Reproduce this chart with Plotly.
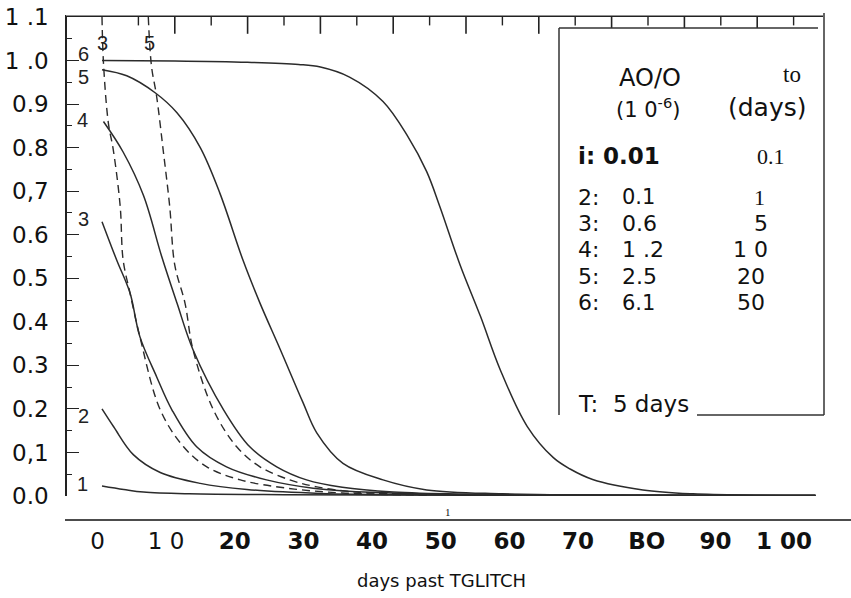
import plotly.graph_objects as go

# ---------------- data ----------------
days_1 = [0, 3, 5.7, 12, 25, 50, 98]
frac_1 = [0.023, 0.015, 0.009, 0.005, 0.003, 0.002, 0.001]

days_2 = [0, 1.6, 4.3, 8, 13.5, 19.9, 30, 45, 70, 98]
frac_2 = [0.2, 0.159, 0.095, 0.054, 0.029, 0.015, 0.006, 0.003, 0.002, 0.001]

days_3 = [0, 2.0, 3.85, 5.2, 7.5, 9.6, 13, 17.1, 22.6, 29, 36, 48, 70, 98]
frac_3 = [0.63, 0.5425, 0.466, 0.366, 0.274, 0.198, 0.113, 0.067, 0.037, 0.018, 0.009, 0.004, 0.002, 0.001]

days_4 = [0.2, 2.9, 5.7, 8.2, 10.3, 12.5, 16.7, 20.3, 24, 28.1, 33, 40, 50, 70, 98]
frac_4 = [0.86, 0.79, 0.69, 0.55, 0.443, 0.336, 0.198, 0.113, 0.067, 0.037, 0.02, 0.009, 0.004, 0.002, 0.001]

days_5 = [0, 3.4, 7.3, 10.3, 13.5, 16.2, 19.4, 21.7, 24.5, 27.6, 29.5, 33.1, 38.6, 44.6, 55, 70, 98]
frac_5 = [0.979, 0.965, 0.926, 0.88, 0.80, 0.695, 0.54, 0.443, 0.336, 0.215, 0.145, 0.075, 0.037, 0.014, 0.005, 0.002, 0.001]

days_6 = [0, 10, 20, 27, 30, 34, 38.6, 42, 44.6, 46.4, 49.2, 52, 54.7, 58.4, 62, 64.3, 67.4, 74.3, 81.2, 90, 98]
frac_6 = [1.0, 0.999, 0.996, 0.991, 0.985, 0.962, 0.906, 0.826, 0.745, 0.665, 0.53, 0.412, 0.29, 0.16, 0.088, 0.062, 0.038, 0.014, 0.005, 0.002, 0.001]

days_3d = [0, 0.2, 0.87, 1.55, 2.5, 2.9, 3.85, 5.2, 8, 11.2, 14.4, 19, 25.4, 33, 45]
frac_3d = [1.1, 0.995, 0.857, 0.795, 0.665, 0.5425, 0.466, 0.366, 0.198, 0.113, 0.067, 0.037, 0.018, 0.007, 0.002]

days_5d = [6.36, 6.8, 7.5, 8.4, 9.3, 10.0, 11.4, 12.5, 15.3, 18.5, 21.7, 25.8, 29.5, 35, 45]
frac_5d = [1.1, 0.987, 0.918, 0.795, 0.665, 0.53, 0.443, 0.336, 0.198, 0.113, 0.067, 0.037, 0.021, 0.009, 0.003]

y_tick_vals = [0.0, 0.1, 0.2, 0.3, 0.4, 0.5, 0.6, 0.7, 0.8, 0.9, 1.0, 1.1]
y_tick_text = ["0.0", "0,1", "0.2", "0.3", "0.4", "0.5", "0.6", "0,7", "0.8", "0.9", "1 .0", "1 .1"]

x_label_vals = [0, 10, 20, 30, 40, 50, 60, 70, 80, 90, 100]
x_label_text = ["0", "1 0", "20", "30", "40", "50", "60", "70", "BO", "90", "1 00"]

top_tick_major = [10, 20, 30, 40, 50, 60, 70, 80, 90]
top_tick_minor = [5, 15, 25, 35, 45, 55, 65, 75, 85, 95]

legend_rows = ["i: 0.01", "2:", "3:", "4:", "5:", "6:"]
legend_ao = ["", "0.1", "0.6", "1 .2", "2.5", "6.1"]
legend_t0 = ["0.1", "1", "5", "1 0", "20", "50"]

# ---------------- geometry helpers ----------------
W, H = 851, 598
L, R, T, B = 67, 823, 17, 520   # plot box in pixels (B = bottom label axis)
Y0 = 496                         # pixel row of value 0
Y_TOP = 1.1


def pxx(xp):
    return (xp - L) / (R - L)


def pxy(yp):
    return (B - yp) / (B - T)


LINE = "#2b2b2b"
LABEL_FONT = dict(family="Liberation Sans Narrow, Liberation Sans", size=20, color="#222")
fig = go.Figure()

solid = [(days_1, frac_1, "1", -20, 2), (days_2, frac_2, "2", -19, -7),
         (days_3, frac_3, "3", -19, 3), (days_4, frac_4, "4", -21, 2),
         (days_5, frac_5, "5", -19, -7), (days_6, frac_6, "6", -19, 7)]
for xs, ys, lab, dx, dy in solid:
    fig.add_trace(go.Scatter(x=xs, y=ys, mode="lines",
                             line=dict(color=LINE, width=1.5, shape="spline", smoothing=1.0),
                             showlegend=False, hoverinfo="skip"))
    fig.add_annotation(x=xs[0], y=ys[0], xref="x", yref="y", text=lab, showarrow=False,
                       xshift=dx, yshift=dy, font=LABEL_FONT)

dashed = [(days_3d, frac_3d, "3", 0, -26), (days_5d, frac_5d, "5", 1, -26)]
for xs, ys, lab, dx, dy in dashed:
    fig.add_trace(go.Scatter(x=xs, y=ys, mode="lines",
                             line=dict(color=LINE, width=1.4, dash="8px,5px", shape="spline", smoothing=1.0),
                             showlegend=False, hoverinfo="skip"))
    fig.add_annotation(x=xs[0], y=ys[0], xref="x", yref="y", text=lab, showarrow=False,
                       xshift=dx, yshift=dy, font=LABEL_FONT)

# top-border tick marks: vertical tick symbols centred on the top edge; the half above the
# edge is masked by a white band so only the downward half shows
for vals, tick_len, lw in [(top_tick_major, 12, 1.6), (top_tick_minor, 6, 1.4)]:
    fig.add_trace(go.Scatter(x=vals, y=[Y_TOP] * len(vals), mode="markers", cliponaxis=False,
                             marker=dict(symbol="line-ns", size=2 * tick_len, line=dict(color="#222", width=lw)),
                             showlegend=False, hoverinfo="skip"))

# carrier for the bottom label axis (draws nothing)
fig.add_trace(go.Scatter(x=x_label_vals, y=[None] * len(x_label_vals), xaxis="x2", yaxis="y",
                         mode="lines", showlegend=False, hoverinfo="skip"))

# ---------------- axes ----------------
px_per_day = 7.28
x0_px = 102
fig.update_layout(
    width=W, height=H,
    margin=dict(l=L, r=W - R, t=T, b=H - B, autoexpand=False),
    paper_bgcolor="white", plot_bgcolor="white",
    showlegend=False,
    xaxis=dict(range=[(L - x0_px) / px_per_day, (R - x0_px) / px_per_day], side="top", anchor="y",
               showline=True, linecolor="#222", linewidth=1.5, showgrid=False, zeroline=False,
               ticks="", showticklabels=False, automargin=False),
    xaxis2=dict(overlaying="x", anchor="free", position=0, side="bottom", range=[-4.44, 105.67],
                showline=False, showgrid=False, zeroline=False, ticks="", automargin=False,
                tickvals=x_label_vals,
                ticktext=[t if i < 2 else "<b>%s</b>" % t for i, t in enumerate(x_label_text)],
                tickfont=dict(family="DejaVu Sans", size=23, color="#111"), ticklabelstandoff=5),
    yaxis=dict(range=[0, Y_TOP], domain=[(B - Y0) / (B - T), 1], showline=True, linecolor="#222", linewidth=1.5,
               showgrid=False, zeroline=False, ticks="inside", tickvals=y_tick_vals, ticktext=y_tick_text,
               ticklen=12, tickwidth=1.2, tickcolor="#222", ticklabelstandoff=12, automargin=False,
               tickfont=dict(family="DejaVu Sans", size=23, color="#111"),
               minor=dict(dtick=0.05, ticks="inside", ticklen=5, tickwidth=1.1, tickcolor="#222")),
)

# white band above the top edge (hides the upper halves of the tick symbols)
fig.add_shape(type="rect", xref="paper", yref="paper", x0=pxx(66), x1=pxx(851), y0=pxy(15.5), y1=pxy(0),
              fillcolor="white", line=dict(width=0), layer="above")

# bottom label-axis line
fig.add_shape(type="line", xref="paper", yref="paper", x0=pxx(65), x1=pxx(851), y0=0, y1=0,
              line=dict(color="#111", width=1.5))

# legend box
box = dict(color="#333", width=1.5)
fig.add_shape(type="rect", xref="paper", yref="paper", x0=pxx(559), x1=pxx(824), y0=pxy(415), y1=pxy(28),
              fillcolor="white", line=dict(width=0), layer="above")
fig.add_shape(type="line", xref="paper", yref="paper", x0=pxx(559), x1=pxx(559), y0=pxy(415), y1=pxy(28), line=box)
fig.add_shape(type="line", xref="paper", yref="paper", x0=pxx(559), x1=pxx(818), y0=pxy(28), y1=pxy(28), line=box)
fig.add_shape(type="line", xref="paper", yref="paper", x0=pxx(824), x1=pxx(824), y0=pxy(415), y1=pxy(13), line=box)
fig.add_shape(type="line", xref="paper", yref="paper", x0=pxx(697), x1=pxx(824), y0=pxy(415), y1=pxy(415), line=box)


def note(text, xp, yp, family="DejaVu Sans", size=22, anchor="left"):
    fig.add_annotation(x=pxx(xp), y=pxy(yp), xref="paper", yref="paper", text=text, showarrow=False,
                       xanchor=anchor, yanchor="middle", borderpad=0,
                       font=dict(family=family, size=size, color="#111"))


note("AO/O", 650, 78, size=24, anchor="center")
note("(1 0<sup>-6</sup>)", 648, 108, size=21, anchor="center")
note("to", 792, 74, family="Liberation Serif", size=23, anchor="center")
note("(days)", 767, 108, size=25, anchor="center")

row_y = [156, 197, 223, 249, 276, 303]
col2_x = [771, 759, 761, 750, 751, 751]
for i, (lab, ao, t0) in enumerate(zip(legend_rows, legend_ao, legend_t0)):
    if i == 0:
        note("<b>%s</b>" % lab, 577, row_y[i], size=23)
        note(t0, col2_x[i], row_y[i], family="Liberation Serif", size=22, anchor="center")
    else:
        note(lab, 577, row_y[i], family="DejaVu Sans", size=22)
        note(ao, 621, row_y[i], family="DejaVu Sans", size=21 if ao in ("0.1", "6.1") else 22)
        tfam = "Liberation Serif" if t0 == "1" else "DejaVu Sans"
        note(t0, col2_x[i], row_y[i], family=tfam, size=22, anchor="center")

fig.add_annotation(x=pxx(576), y=pxy(404), xref="paper", yref="paper", text="T:  5 days", showarrow=False,
                   xanchor="left", yanchor="middle", bgcolor="white",
                   font=dict(family="DejaVu Sans", size=23, color="#111"))

# small stray mark and axis title
note("1", 448, 512, family="Liberation Serif", size=11, anchor="center")
note("days past TGLITCH", 441, 580, family="DejaVu Sans", size=18, anchor="center")

fig.write_html("out.html")
